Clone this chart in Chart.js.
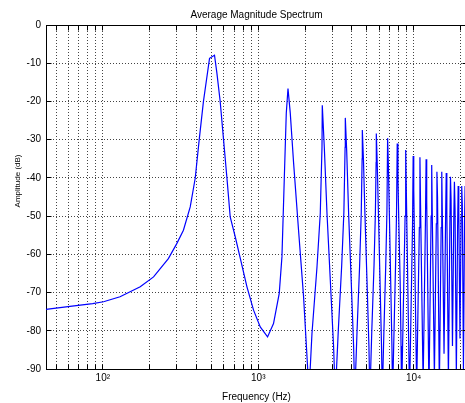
<!DOCTYPE html>
<html>
<head>
<meta charset="utf-8">
<script src="https://cdn.jsdelivr.net/npm/chart.js@4.4.1/dist/chart.umd.min.js"></script>
<style>
html,body{margin:0;padding:0;background:#fff;overflow:hidden;}
canvas{display:block;}
</style>
</head>
<body>
<canvas id="c" width="470" height="403"></canvas>
<script>
// ---- data ----
const freqHz = [
  43.07, 61.5, 86, 101, 129, 174, 212, 264, 299, 330, 365, 393, 417, 444, 486, 523,
  542, 569, 598, 629, 660, 711, 758, 846, 933, 1030, 1148,
  1254, 1365, 1421, 1470, 1515, 1554, 1607, 1688, 1817, 1957, 2077, 2110,
  2217, 2388, 2507, 2572, 2583, 2661, 2770, 2909, 3054, 3132,
  3274, 3443, 3557, 3622, 3633, 3709, 3821, 3965, 4108, 4180,
  4324, 4491, 4602, 4661, 4675, 4752, 4864, 5011, 5155, 5230,
  5380, 5559, 5675, 5735, 5752, 5829, 5943, 6076, 6213, 6287,
  6438, 6613, 6731, 6800, 6881, 6983, 7117, 7249, 7320,
  7479, 7648, 7762, 7840, 7925, 8033, 8188, 8299, 8370,
  8812, 8890, 8969, 9410,
  9842, 9930, 10018, 10460,
  10883, 10980, 11078, 11510,
  11924, 12030, 12137, 12550,
  12955, 13070, 13186, 13600,
  13996, 14120, 14246, 14640,
  15036, 15170, 15305, 15690,
  16067, 16210, 16354, 16740,
  17108, 17260, 17414, 17780,
  18139, 18300, 18463, 18830,
  19180, 19350, 19522, 19870,
  20210, 20390, 20571, 20920,
  21251, 21440, 21631, 21960, 22050
];
const amplitudeDb = [
  -74.4, -73.6, -72.9, -72.4, -71.1, -68.5, -65.9, -61.1, -57.2, -53.7, -47.6, -40.1, -30, -20, -8.7, -7.9,
  -12.6, -20, -30, -40.1, -50.2, -55.4, -60.2, -68.5, -74.6, -79, -81.6,
  -78.1, -70.2, -60.6, -40.6, -23.1, -16.6, -23, -36, -53.7, -71, -89.4, -98,
  -80.7, -63.3, -49.3, -31.9, -21, -31.9, -49.3, -66.8, -84.2, -97,
  -80, -63, -49, -32, -24.3, -33, -50, -67, -84, -97,
  -80, -63, -49, -35, -27.5, -35, -50, -67, -84, -97,
  -80, -63, -49, -36, -28.4, -36, -50, -67, -84, -97,
  -80, -63, -49, -29.6, -37, -50, -67, -84, -97,
  -80, -63, -49, -31, -40, -52, -67, -84, -97,
  -50, -32.7, -42.8, -97,
  -52, -34.3, -43.2, -95,
  -53, -34.6, -47.1, -94,
  -50, -35.1, -45.8, -96,
  -50, -36.6, -50.2, -92,
  -52, -38.4, -45, -95,
  -53, -38.4, -50.2, -86,
  -50, -38.7, -48.4, -93,
  -52, -39.7, -45.8, -84,
  -50, -41, -48, -92,
  -53, -42.1, -48.4, -82,
  -50, -42.1, -47, -90,
  -52, -42.1, -50, -85, -80
];
const xGridTicks = [50, 60, 70, 80, 90, 100, 200, 300, 400, 500, 600, 700, 800, 900,
  1000, 2000, 3000, 4000, 5000, 6000, 7000, 8000, 9000, 10000, 20000];
const xTickLabels = {100: '10\u00B2', 1000: '10\u00B3', 10000: '10\u2074'};
const yMin = -90, yMax = 0, yStep = 10;
const chartTitle = 'Average Magnitude Spectrum';
const xTitle = 'Frequency (Hz)';
const yTitle = 'Amplitude (dB)';

const FONT = 'Liberation Sans, Arial, Helvetica, sans-serif';
Chart.defaults.font.family = FONT;
Chart.defaults.color = '#000';

const points = freqHz.map((f, i) => ({x: f, y: amplitudeDb[i]}));

const boxPlugin = {
  id: 'boxTicks',
  afterDraw(chart) {
    const {ctx, chartArea: a, scales: {x, y}} = chart;
    const al = v => Math.round(v - 0.5) + 0.5;
    ctx.save();
    ctx.strokeStyle = '#000';
    ctx.lineWidth = 1;
    ctx.setLineDash([]);
    ctx.beginPath();
    const L = al(a.left), R = al(a.right), T = al(a.top), B = al(a.bottom);
    ctx.moveTo(L, T); ctx.lineTo(R, T); ctx.lineTo(R, B);
    x.ticks.forEach(t => {
      const px = al(x.getPixelForValue(t.value));
      ctx.moveTo(px, B); ctx.lineTo(px, B - 5);
      ctx.moveTo(px, T); ctx.lineTo(px, T + 5);
    });
    y.ticks.forEach(t => {
      const py = al(y.getPixelForValue(t.value));
      ctx.moveTo(L, py); ctx.lineTo(L + 5, py);
      ctx.moveTo(R, py); ctx.lineTo(R - 5, py);
    });
    ctx.stroke();
    // y axis title (placed as in the reference, slightly above the axis centre)
    ctx.fillStyle = '#000';
    ctx.font = '8px ' + FONT;
    ctx.textAlign = 'center';
    ctx.textBaseline = 'middle';
    ctx.translate(17.5, y.getPixelForValue(-40.8));
    ctx.rotate(-Math.PI / 2);
    ctx.fillText(yTitle, 0, 0);
    ctx.restore();
  }
};

new Chart(document.getElementById('c'), {
  type: 'line',
  data: {
    datasets: [{
      data: points,
      borderColor: '#0000ff',
      borderWidth: 1.2,
      pointRadius: 0,
      tension: 0,
      fill: false
    }]
  },
  options: {
    responsive: false,
    animation: false,
    devicePixelRatio: 1,
    layout: {padding: {left: 0, right: 3, top: 0, bottom: 0}},
    plugins: {
      legend: {display: false},
      tooltip: {enabled: false},
      title: {
        display: true, text: chartTitle, fullSize: false, color: '#000',
        font: {size: 10, weight: 'normal', family: FONT},
        padding: {top: 9, bottom: 4}
      }
    },
    scales: {
      x: {
        type: 'logarithmic', min: 43.07, max: 22050,
        afterBuildTicks: s => { s.ticks = xGridTicks.map(v => ({value: v})); },
        afterFit: s => { s.height = 34; },
        ticks: {
          autoSkip: false, maxRotation: 0, minRotation: 0, padding: 3, color: '#000',
          font: {size: 10, family: FONT},
          callback: v => xTickLabels[v] || ''
        },
        grid: {color: '#444', lineWidth: 1, drawTicks: false},
        border: {display: true, color: '#000', width: 1, dash: [1, 2]},
        title: {display: true, text: xTitle, color: '#000', font: {size: 10, family: FONT}, padding: {top: 0, bottom: 0}}
      },
      y: {
        type: 'linear', min: yMin, max: yMax,
        afterFit: s => { s.width = 46; },
        ticks: {stepSize: yStep, padding: 5, color: '#000', font: {size: 10, family: FONT}},
        grid: {color: '#444', lineWidth: 1, drawTicks: false},
        border: {display: true, color: '#000', width: 1, dash: [1, 2]},
        title: {display: false}
      }
    }
  },
  plugins: [boxPlugin]
});
</script>
</body>
</html>
